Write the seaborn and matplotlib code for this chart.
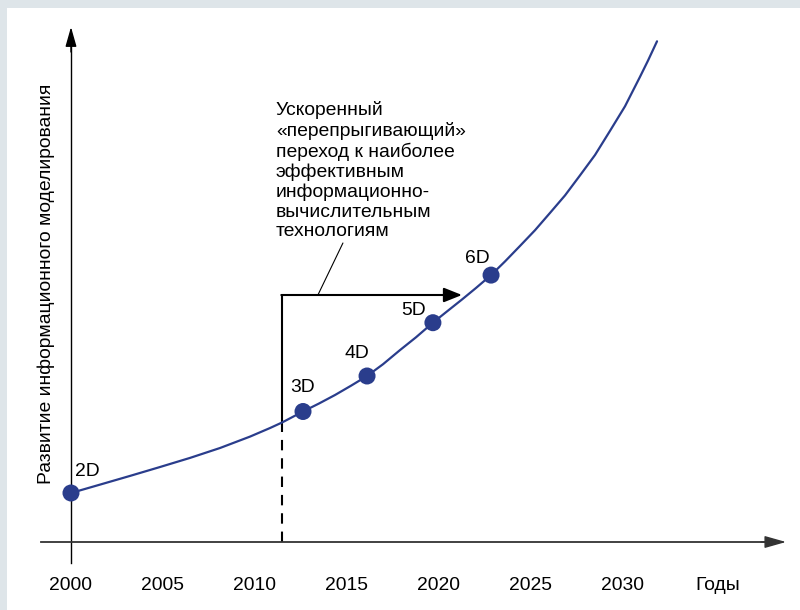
import matplotlib
matplotlib.use("Agg")
import matplotlib.pyplot as plt
from matplotlib.patches import Rectangle
import pandas as pd
import seaborn as sns

# curve (year, development level)
curve_years = [2000.00, 2001.58, 2003.21, 2004.84, 2006.47, 2008.10, 2009.73, 2010.82,
               2011.47, 2012.61, 2013.48, 2014.35, 2015.22, 2016.09, 2016.96, 2017.88,
               2018.75, 2019.67, 2020.43, 2021.25, 2022.01, 2022.83, 2023.59, 2024.40,
               2025.22, 2026.03, 2026.85, 2027.66, 2028.48, 2029.29, 2030.11, 2030.92,
               2031.36, 2031.85]
curve_level = [9.80, 11.48, 13.22, 15.00, 16.82, 18.80, 21.08, 22.80,
               23.90, 26.10, 27.70, 29.40, 31.26, 33.20, 35.56, 38.38,
               40.94, 43.86, 46.10, 48.50, 50.80, 53.38, 56.12, 59.20,
               62.36, 65.80, 69.32, 73.30, 77.40, 82.20, 87.14, 93.00,
               96.28, 100.14]

# milestones on the curve
stage_names = ["2D", "3D", "4D", "5D", "6D"]
stage_years = [2000.0, 2012.61, 2016.09, 2019.67, 2022.83]
stage_level = [9.8, 26.1, 33.2, 43.86, 53.38]

# jump marker
jump_year = 2011.47
jump_level_curve = 23.9
jump_level_top = 49.4
jump_target_year = 2021.25

tick_years = [2000, 2005, 2010, 2015, 2020, 2025, 2030, 2035.16]
tick_labels = ["2000", "2005", "2010", "2015", "2020", "2025", "2030", "Годы"]

y_label = "Развитие информационного моделирования"
note = ("Ускоренный\n«перепрыгивающий»\nпереход к наиболее\nэффективным\n"
        "информационно-\nвычислительным\nтехнологиям")

sns.set_theme(style="white")
plt.rcParams["font.family"] = ["Liberation Sans", "DejaVu Sans"]
fs = 13.9

navy = "#2a3d8c"
axis_col = "#333333"

fig = plt.figure(figsize=(8, 6.1), dpi=100, facecolor="#dee5e9")
fig.patches.append(Rectangle((7 / 800, 0), 793 / 800, 602 / 610, transform=fig.transFigure,
                             facecolor="white", edgecolor="none", zorder=-10))

ax = fig.add_axes([41 / 800, 68 / 610, 745 / 800, 515 / 610])
ax.set_facecolor("none")
ax.set_xlim(1998.37, 2038.86)
ax.set_ylim(0, 103)

curve = pd.DataFrame({"year": curve_years, "level": curve_level})
stages = pd.DataFrame({"year": stage_years, "level": stage_level, "name": stage_names})

sns.lineplot(data=curve, x="year", y="level", ax=ax, color=navy, linewidth=1.6,
             sort=False, clip_on=False, zorder=3)
sns.scatterplot(data=stages, x="year", y="level", ax=ax, color=navy, s=150,
                edgecolor="none", clip_on=False, zorder=4)

# labels of the milestones (offsets in points)
label_offsets = [(12, 15.5), (0, 17.5), (-7.5, 16), (-14, 8.5), (-10, 12)]
for name, x, y, off in zip(stage_names, stage_years, stage_level, label_offsets):
    ax.annotate(name, (x, y), xytext=off, textcoords="offset points",
                ha="center", va="center", fontsize=fs, color="black")

# spines as arrows
for s in ["top", "right"]:
    ax.spines[s].set_visible(False)
ax.spines["left"].set_position(("data", 2000))
ax.spines["left"].set_bounds(-4.2, 101)
ax.spines["left"].set_color("black")
ax.spines["left"].set_linewidth(1.0)
ax.spines["bottom"].set_color(axis_col)
ax.spines["bottom"].set_linewidth(1.3)
ax.spines["bottom"].set_bounds(1998.37, 2038.3)

arrow_head = dict(arrowstyle="-|>,head_length=0.6,head_width=0.17", mutation_scale=20,
                  color="black", lw=1.0, shrinkA=0, shrinkB=0)
ax.annotate("", xy=(2000, 103), xytext=(2000, 98), xycoords="data",
            arrowprops=arrow_head, annotation_clip=False)
ax.annotate("", xy=(2038.86, 0), xytext=(2037.5, 0), xycoords="data",
            arrowprops=dict(arrow_head, color=axis_col, mutation_scale=22),
            annotation_clip=False)

# ticks
ax.set_xticks(tick_years, tick_labels)
ax.set_yticks([])
ax.tick_params(axis="x", length=0, pad=25.5, labelsize=fs, labelcolor="black")
ax.set_xlabel("")
ax.set_ylabel(y_label, fontsize=fs, color="black")
ax.yaxis.set_label_coords(0.019, 0.502)

# jump: dashed drop line, solid riser, horizontal arrow
ax.plot([jump_year, jump_year], [0, jump_level_curve], color="black", lw=1.5,
        ls=(0, (5, 3.8)), zorder=2)
ax.plot([jump_year, jump_year], [jump_level_curve, jump_level_top], color="black",
        lw=1.5, zorder=2, solid_capstyle="butt")
ax.annotate("", xy=(jump_target_year, jump_level_top), xytext=(jump_year - 0.04, jump_level_top),
            arrowprops=dict(arrowstyle="-|>,head_length=0.55,head_width=0.22",
                            mutation_scale=20, color="black", lw=1.5,
                            shrinkA=0, shrinkB=0))

# note with leader line
ax.text(2011.14, 88.1, note, ha="left", va="top", fontsize=fs, linespacing=1.19,
        color="black")
ax.plot([2014.78, 2013.42], [59.8, 49.4], color="black", lw=0.8)

fig.savefig("out.png", dpi=100, facecolor=fig.get_facecolor())
